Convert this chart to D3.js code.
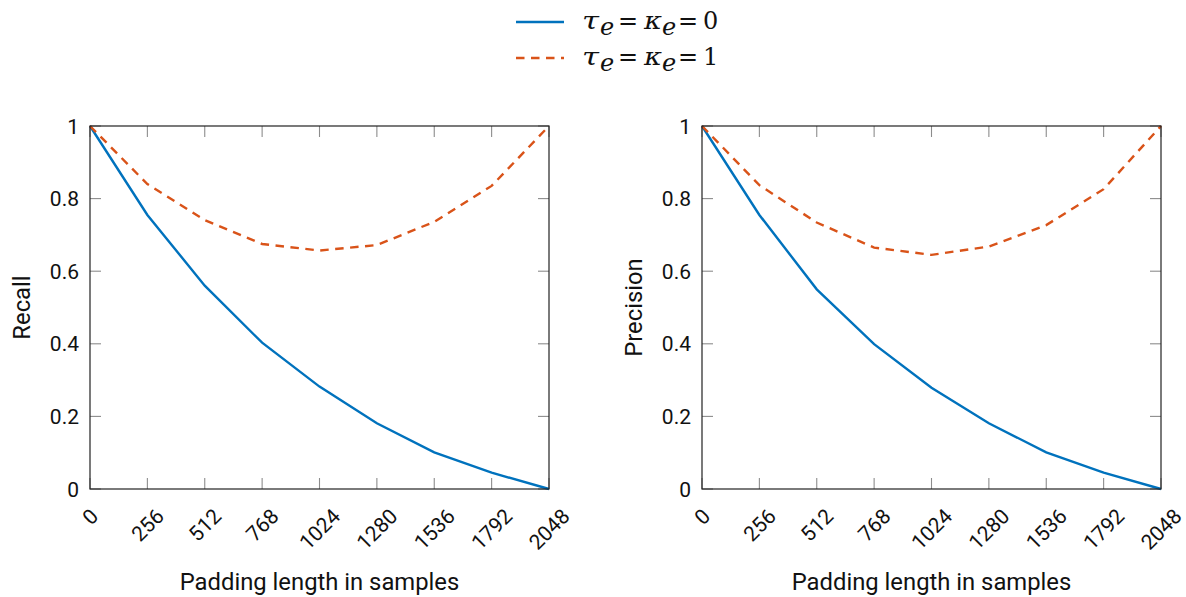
<!DOCTYPE html>
<html>
<head>
<meta charset="utf-8">
<script src="https://cdn.jsdelivr.net/npm/d3@7"></script>
<style>
  html, body { margin: 0; padding: 0; background: #fff; }
  svg { display: block; }
  .tick-label { font-family: Roboto, "Noto Sans", sans-serif; font-size: 21px; fill: #111; }
  .axis-title { font-family: Roboto, "Noto Sans", sans-serif; font-size: 23.8px; fill: #111; }
  .math { font-family: "DejaVu Serif", "Liberation Serif", serif; font-size: 24px; fill: #111; }
</style>
</head>
<body>
<svg id="chart" width="1186" height="597"></svg>
<script>
// Padding lengths (samples) along the x axis
const paddingLengths = [0, 256, 512, 768, 1024, 1280, 1536, 1792, 2048];
const yTicks = [0, 0.2, 0.4, 0.6, 0.8, 1];

// Recall
const recallNoTol   = [1, 0.755, 0.560, 0.403, 0.282, 0.181, 0.101, 0.045, 0];
const recallTol     = [1, 0.840, 0.741, 0.675, 0.657, 0.672, 0.736, 0.835, 1];
// Precision
const precisionNoTol = [1, 0.755, 0.550, 0.399, 0.279, 0.181, 0.101, 0.045, 0];
const precisionTol   = [1, 0.837, 0.734, 0.665, 0.645, 0.668, 0.727, 0.826, 1];

const seriesStyle = [
  { color: "#0072bd", dash: null },
  { color: "#d95319", dash: "8.5,6.5" }
];

const svg = d3.select("#chart");

const panels = [
  { title: "Recall", left: 90, values: [recallNoTol, recallTol], ylabelX: 30 },
  { title: "Precision", left: 702, values: [precisionNoTol, precisionTol], ylabelX: 642 }
];

const plotW = 459, plotTop = 126, plotBottom = 489, tickLen = 11;

panels.forEach(p => {
  const x = d3.scaleLinear().domain([0, 2048]).range([p.left, p.left + plotW]);
  const y = d3.scaleLinear().domain([0, 1]).range([plotBottom, plotTop]);
  const g = svg.append("g");

  // inward ticks on all four sides
  const tk = g.append("g").attr("stroke", "#8c8c8c").attr("stroke-width", 1.1);
  paddingLengths.forEach(v => {
    tk.append("line").attr("x1", x(v)).attr("x2", x(v)).attr("y1", plotBottom).attr("y2", plotBottom - tickLen);
    tk.append("line").attr("x1", x(v)).attr("x2", x(v)).attr("y1", plotTop).attr("y2", plotTop + tickLen);
  });
  yTicks.forEach(v => {
    tk.append("line").attr("x1", x(0)).attr("x2", x(0) + tickLen).attr("y1", y(v)).attr("y2", y(v));
    tk.append("line").attr("x1", x(2048)).attr("x2", x(2048) - tickLen).attr("y1", y(v)).attr("y2", y(v));
  });

  // series lines
  const line = d3.line().x((d, i) => x(paddingLengths[i])).y(d => y(d));
  p.values.forEach((vals, si) => {
    g.append("path")
      .datum(vals)
      .attr("d", line)
      .attr("fill", "none")
      .attr("stroke", seriesStyle[si].color)
      .attr("stroke-width", 2.4)
      .attr("stroke-dasharray", seriesStyle[si].dash);
  });

  // frame
  g.append("rect")
    .attr("x", x(0)).attr("y", plotTop)
    .attr("width", x(2048) - x(0)).attr("height", plotBottom - plotTop)
    .attr("fill", "none").attr("stroke", "#222").attr("stroke-width", 1.2);

  // y tick labels
  yTicks.forEach(v => {
    g.append("text").attr("class", "tick-label")
      .attr("x", x(0) - 11).attr("y", y(v)).attr("dy", "0.36em")
      .attr("text-anchor", "end")
      .text(d3.format("~g")(v));
  });

  // rotated x tick labels, bounding box centred on the tick
  paddingLengths.forEach(v => {
    const t = g.append("text").attr("class", "tick-label")
      .attr("text-anchor", "middle").attr("dy", "0.36em")
      .text(v);
    const w = t.node().getComputedTextLength();
    const h = 15;
    const cy = 507 + (w + h) * Math.SQRT1_2 / 2;
    t.attr("transform", `translate(${x(v)},${cy}) rotate(-45)`);
  });

  // axis titles
  g.append("text").attr("class", "axis-title")
    .attr("x", (x(0) + x(2048)) / 2).attr("y", 590)
    .attr("text-anchor", "middle")
    .text("Padding length in samples");
  g.append("text").attr("class", "axis-title")
    .attr("transform", `translate(${p.ylabelX},${(plotTop + plotBottom) / 2}) rotate(-90)`)
    .attr("text-anchor", "middle")
    .text(p.title);
});

// legend
const legendValues = ["0", "1"];
const legend = svg.append("g");
legendValues.forEach((val, i) => {
  const ly = 22 + i * 36;
  legend.append("line")
    .attr("x1", 516).attr("x2", 564).attr("y1", ly).attr("y2", ly)
    .attr("stroke", seriesStyle[i].color).attr("stroke-width", 2.4)
    .attr("stroke-dasharray", seriesStyle[i].dash);
  const base = ly + 7;
  const parts = [
    { t: "τ", x: 582, italic: true, w: 17 },
    { t: "e", x: 600, italic: true, sub: true },
    { t: "=", x: 618, eq: true },
    { t: "κ", x: 644, italic: true, w: 18 },
    { t: "e", x: 662, italic: true, sub: true },
    { t: "=", x: 678, eq: true },
    { t: val, x: 703 }
  ];
  parts.forEach(pt => {
    const len = pt.eq ? null : (pt.w || null);
    legend.append("text").attr("class", "math")
      .attr("x", pt.x).attr("y", base + (pt.sub ? 6 : 0))
      .attr("font-style", pt.italic ? "italic" : null)
      .attr("font-size", pt.sub ? "16px" : (pt.eq ? "26px" : (pt.italic ? "25px" : null)))
      .attr("font-family", pt.eq ? "DejaVu Sans, sans-serif" : null)
      .attr("textLength", len)
      .attr("lengthAdjust", len ? "spacingAndGlyphs" : null)
      .text(pt.t);
  });
});
</script>
</body>
</html>
